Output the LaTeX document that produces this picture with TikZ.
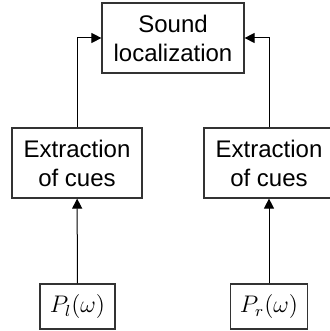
\documentclass[tikz,border=0pt]{standalone}
\usepackage{fontspec}
\setmainfont{Liberation Sans}
\usetikzlibrary{arrows.meta,positioning}
\definecolor{LocLine}{HTML}{333333}
\tikzset{
  locbox/.style={
    draw=LocLine,
    line width=0.6pt,
    fill=white,
    align=center,
    inner sep=0pt,
    font=\fontsize{12}{14.5}\selectfont
  },
  locflow/.style={-{Triangle[length=5pt,width=5pt]},draw=black,line width=0.5pt}
}
\begin{document}
\begin{tikzpicture}[x=0.5pt,y=0.5pt]
  \useasboundingbox (0,0) rectangle (330,331);
  \node[locbox,minimum width=71pt,minimum height=35pt] (sound) at (173,293) {Sound\\localization};
  \node[locbox,minimum width=65pt,minimum height=35pt] (lcues) at (77,168) {Extraction\\of cues};
  \node[locbox,minimum width=65pt,minimum height=35pt] (rcues) at (269,168) {Extraction\\of cues};
  \node[locbox,minimum width=37.5pt,minimum height=22.5pt] (lspec) at (77.5,24.5) {$P_l(\omega)$};
  \node[locbox,minimum width=38.5pt,minimum height=22.5pt] (rspec) at (269,24.5) {$P_r(\omega)$};
  \draw[locflow] (lspec) -- (lcues);
  \draw[locflow] (rspec) -- (rcues);
  \draw[locflow] (lcues.north) |- (sound.west);
  \draw[locflow] (rcues.north) |- (sound.east);
\end{tikzpicture}
\end{document}
